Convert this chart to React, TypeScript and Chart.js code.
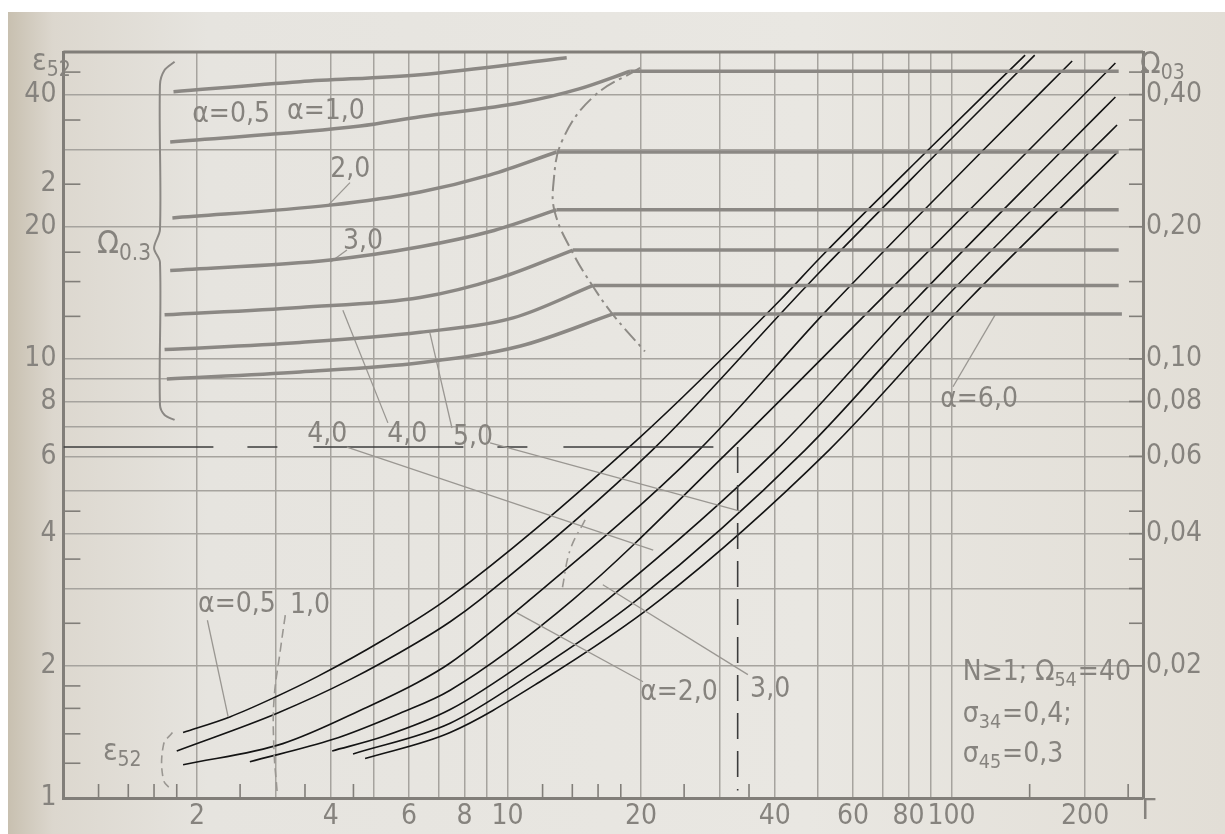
import React, { useEffect, useRef } from "react";
import { Chart, registerables } from "chart.js";
Chart.register(...registerables);

const FONT = '"Liberation Sans Narrow", "DejaVu Sans Condensed", "DejaVu Sans", sans-serif';
const INK = "#86837e";
const GRID = "#a6a39e";
const THICK = "#8b8884";
const BORDER = "#817e79";
const BLACK = "#141414";

// ---- axis ticks ----
const xTickValues = [2, 4, 6, 8, 10, 20, 40, 60, 80, 100, 200];
const xTickLabels = ["2", "4", "6", "8", "10", "20", "40", "60", "80", "100", "200"];
const xGridValues = [2, 3, 4, 5, 6, 7, 8, 9, 10, 20, 30, 40, 50, 60, 70, 80, 90, 100, 200];
const xMinorValues = [1.2, 1.4, 1.6, 1.8, 2.5, 3.5, 4.5, 12, 14, 16, 18, 25, 35, 150, 250];

const yTickValues = [1, 2, 4, 6, 8, 10, 20, 25, 40];
const yTickLabels = ["1", "2", "4", "6", "8", "10", "20", "2", "40"];
const yGridValues = [2, 3, 4, 5, 6, 7, 8, 9, 10, 20, 30, 40];
const yMinorValues = [1.2, 1.4, 1.6, 1.8, 2.5, 3.5, 4.5, 12.5, 15, 17.5, 25, 35, 45];

const omegaTickValues = [0.02, 0.04, 0.06, 0.08, 0.1, 0.2, 0.4];
const omegaTickLabels = ["0,02", "0,04", "0,06", "0,08", "0,10", "0,20", "0,40"];
const omegaMinorValues = [0.025, 0.03, 0.035, 0.045, 0.125, 0.15, 0.25, 0.3, 0.35, 0.45];

// ---- ε52 vs Г (black curves), α = 0.5 ... 6.0 ----
const gammaA05 = [1.86, 2.37, 2.97, 3.73, 5.25, 7.43, 19.6, 41.1, 50.6, 88.6, 146.5];
const epsA05 = [1.41, 1.53, 1.69, 1.89, 2.29, 2.87, 6.54, 13.6, 17.0, 29.9, 49.2];
const gammaA10 = [1.8, 3.03, 4.42, 6.26, 7.43, 8.68, 21.2, 44.0, 50.6, 94.3, 154];
const epsA10 = [1.28, 1.56, 1.86, 2.26, 2.52, 2.83, 6.2, 13.6, 15.8, 29.9, 49.2];
const gammaA20 = [1.86, 3.12, 4.83, 6.26, 7.43, 11.24, 27.0, 52.5, 118, 187];
const epsA20 = [1.19, 1.33, 1.61, 1.83, 2.03, 2.83, 6.2, 12.93, 29.9, 47.7];
const gammaA30 = [2.63, 4.05, 5.73, 7.43, 14.05, 31.7, 65.6, 149.5, 234];
const epsA30 = [1.21, 1.36, 1.56, 1.76, 2.83, 6.2, 12.93, 29.9, 47.2];
const gammaA40 = [4.03, 5.25, 7.43, 11.24, 16.8, 40.3, 82.8, 178, 234];
const epsA40 = [1.28, 1.38, 1.59, 2.08, 2.83, 6.2, 13.6, 29.9, 39.5];
const gammaA50 = [4.49, 7.43, 11.24, 19.6, 46.8, 95.7, 207, 236];
const epsA50 = [1.26, 1.48, 1.91, 2.83, 6.2, 13.6, 29.9, 34.1];
const gammaA60 = [4.78, 7.43, 11.84, 22.1, 53.0, 109, 236];
const epsA60 = [1.23, 1.41, 1.84, 2.83, 6.2, 13.6, 29.5];

// ---- Ω03 vs Г (thick grey curves), α = 0.5 ... 6.0 ----
const gammaW05 = [1.77, 3.41, 6.36, 13.6];
const omegaW05 = [0.406, 0.428, 0.444, 0.485];
const gammaW10 = [1.74, 4.66, 6.36, 10.7, 14.5, 18.9, 238];
const omegaW10 = [0.312, 0.339, 0.356, 0.383, 0.412, 0.452, 0.452];
const gammaW20 = [1.76, 3.99, 6.36, 9.14, 12.9, 238];
const omegaW20 = [0.2095, 0.224, 0.24, 0.2625, 0.296, 0.296];
const gammaW30 = [1.74, 3.99, 6.36, 9.14, 12.9, 238];
const omegaW30 = [0.159, 0.168, 0.18, 0.195, 0.2185, 0.2185];
const gammaW40 = [1.69, 3.41, 6.36, 9.62, 14.05, 238];
const omegaW40 = [0.126, 0.131, 0.138, 0.153, 0.177, 0.177];
const gammaW50 = [1.69, 3.41, 6.36, 10.3, 15.6, 238];
const omegaW50 = [0.105, 0.109, 0.115, 0.124, 0.147, 0.147];
const gammaW60 = [1.71, 3.41, 6.36, 10.7, 17.3, 242];
const omegaW60 = [0.09, 0.0934, 0.098, 0.107, 0.1266, 0.1266];

// ---- boundary (dash-dot) and auxiliary lines ----
const gammaBound = [19.9, 15.6, 13.3, 12.7, 12.8, 14.05, 15.6, 17.3, 20.4];
const epsBound = [46.0, 39.5, 31.5, 25.2, 21.5, 17.4, 14.6, 12.6, 10.4];
const gammaLowBound = [3.16, 3.08, 2.98, 2.98, 3.03];
const epsLowBound = [2.61, 2.17, 1.67, 1.29, 1.03];
const gammaMidBound = [14.96, 13.84, 13.27];
const epsMidBound = [4.3, 3.67, 2.98];
const gammaExampleH = [1, 33];
const epsExampleH = [6.3, 6.3];
const gammaExampleV = [33, 33];
const epsExampleV = [6.3, 1.04];
const gammaBrace = [1.78, 1.69, 1.65, 1.65, 1.6, 1.65, 1.65, 1.69, 1.78];
const epsBrace = [47.5, 45.5, 42.1, 19.7, 17.9, 16.6, 7.86, 7.45, 7.26];
const gammaBraceLow = [1.76, 1.68, 1.68, 1.76];
const epsBraceLow = [1.41, 1.32, 1.1, 1.04];

// leader lines: [Г1, ε1, Г2, ε2]
const leaders = [
  [4.42, 25.2, 3.95, 22.4],
  [4.35, 17.7, 3.99, 16.6],
  [5.38, 7.15, 4.26, 12.9],
  [7.5, 6.96, 6.69, 11.46],
  [100.8, 8.64, 125.4, 12.6],
  [4.35, 6.3, 21.3, 3.67],
  [9.14, 6.44, 33.4, 4.5],
  [20.2, 1.84, 10.5, 2.64],
  [34.8, 1.91, 16.4, 3.06],
  [2.11, 2.54, 2.35, 1.53],
];

// annotations: parts [text, isSubscript], anchor at (Г, ε)
const notes = [
  { parts: [["α=0,5", false]], g: 1.95, e: 36.0, size: 28 },
  { parts: [["α=1,0", false]], g: 3.19, e: 36.5, size: 28 },
  { parts: [["2,0", false]], g: 3.99, e: 26.95, size: 28 },
  { parts: [["3,0", false]], g: 4.26, e: 18.5, size: 28 },
  { parts: [["Ω", false], ["0.3", true]], g: 1.19, e: 18.2, size: 32 },
  { parts: [["4,0", false]], g: 3.54, e: 6.71, size: 28 },
  { parts: [["4,0", false]], g: 5.36, e: 6.71, size: 28 },
  { parts: [["5,0", false]], g: 7.54, e: 6.61, size: 28 },
  { parts: [["α=6,0", false]], g: 94.3, e: 8.07, size: 28 },
  { parts: [["α=0,5", false]], g: 2.01, e: 2.75, size: 28 },
  { parts: [["1,0", false]], g: 3.24, e: 2.74, size: 28 },
  { parts: [["α=2,0", false]], g: 19.9, e: 1.735, size: 28 },
  { parts: [["3,0", false]], g: 35.2, e: 1.76, size: 28 },
  { parts: [["ε", false], ["52", true]], g: 1.228, e: 1.273, size: 30 },
  { parts: [["N≥1; Ω", false], ["54", true], ["=40", false]], g: 106, e: 1.93, size: 28 },
  { parts: [["σ", false], ["34", true], ["=0,4;", false]], g: 106, e: 1.546, size: 28 },
  { parts: [["σ", false], ["45", true], ["=0,3", false]], g: 106, e: 1.253, size: 28 },
  { parts: [["ε", false], ["52", true]], g: 0.85, e: 47.5, size: 30 },
  { parts: [["Ω", false], ["03", true]], g: 266, e: 46.7, size: 30 },
  { parts: [["Г", false]], g: 268, e: 0.93, size: 28 },
];

const pts = (xs: number[], ys: number[]) => xs.map((x, i) => ({ x, y: ys[i] }));

const framePlugin = {
  id: "frame",
  beforeDatasetsDraw(chart: any) {
    const { ctx, chartArea: a, scales } = chart;
    ctx.save();
    ctx.strokeStyle = BORDER;
    ctx.lineWidth = 1.6;
    const seg = (x1: number, y1: number, x2: number, y2: number) => {
      ctx.beginPath();
      ctx.moveTo(x1, y1);
      ctx.lineTo(x2, y2);
      ctx.stroke();
    };
    xMinorValues.forEach((v) => {
      const p = scales.x.getPixelForValue(v);
      seg(p, a.bottom, p, a.bottom - 14);
    });
    yMinorValues.forEach((v) => {
      const p = scales.y.getPixelForValue(v);
      seg(a.left, p, a.left + 17, p);
    });
    [...omegaMinorValues, ...omegaTickValues].forEach((v) => {
      const p = scales.y2.getPixelForValue(v);
      seg(a.right, p, a.right - 14, p);
    });
    ctx.lineWidth = 3;
    seg(a.left, a.top, a.right, a.top);
    ctx.restore();
  },
};

const notesPlugin = {
  id: "notes",
  afterDatasetsDraw(chart: any) {
    const { ctx, scales } = chart;
    ctx.save();
    ctx.fillStyle = INK;
    ctx.textBaseline = "middle";
    ctx.textAlign = "left";
    notes.forEach((n) => {
      let x = scales.x.getPixelForValue(n.g);
      const y = scales.y.getPixelForValue(n.e);
      n.parts.forEach(([t, sub]: any) => {
        const s = sub ? n.size * 0.7 : n.size;
        ctx.font = `${s}px ${FONT}`;
        ctx.fillText(t, x, sub ? y + n.size * 0.3 : y);
        x += ctx.measureText(t).width + (sub ? 1 : 0);
      });
    });
    ctx.restore();
  },
};

export default function App() {
  const ref = useRef<HTMLCanvasElement>(null);
  useEffect(() => {
    const line = (data: any[], color: string, width: number, extra: any = {}) => ({
      data,
      borderColor: color,
      borderWidth: width,
      pointRadius: 0,
      fill: false,
      showLine: true,
      ...extra,
    });
    const omegaPairs = [
      [gammaW05, omegaW05, false],
      [gammaW10, omegaW10, true],
      [gammaW20, omegaW20, true],
      [gammaW30, omegaW30, true],
      [gammaW40, omegaW40, true],
      [gammaW50, omegaW50, true],
      [gammaW60, omegaW60, true],
    ] as any[];
    const omegaSets: any[] = [];
    omegaPairs.forEach(([g, w, flat]) => {
      const n = flat ? g.length - 1 : g.length;
      // rising part
      omegaSets.push(
        line(pts(g.slice(0, n), w.slice(0, n)), THICK, 3.5, { yAxisID: "y2", cubicInterpolationMode: "monotone" })
      );
      // horizontal part after the boundary
      if (flat) {
        omegaSets.push(line(pts(g.slice(n - 1), w.slice(n - 1)), THICK, 3.5, { yAxisID: "y2" }));
      }
    });
    const epsSets = [
      [gammaA05, epsA05],
      [gammaA10, epsA10],
      [gammaA20, epsA20],
      [gammaA30, epsA30],
      [gammaA40, epsA40],
      [gammaA50, epsA50],
      [gammaA60, epsA60],
    ].map(([g, e]) => line(pts(g, e), BLACK, 1.6, { cubicInterpolationMode: "monotone" }));
    const leaderSets = leaders.map((l) =>
      line([{ x: l[0], y: l[1] }, { x: l[2], y: l[3] }], "#9a9792", 1.3)
    );
    const datasets = [
      ...omegaSets,
      line(pts(gammaBound, epsBound), "#8e8b86", 2, { tension: 0.4, borderDash: [16, 5, 3, 5] }),
      line(pts(gammaLowBound, epsLowBound), "#9a9792", 1.6, { tension: 0.4, borderDash: [9, 5] }),
      line(pts(gammaMidBound, epsMidBound), "#9a9792", 1.6, { tension: 0.4, borderDash: [9, 5, 2, 5] }),
      line(pts(gammaBrace, epsBrace), THICK, 2, { tension: 0.3 }),
      line(pts(gammaBraceLow, epsBraceLow), "#9a9792", 1.6, { tension: 0.4, borderDash: [8, 5] }),
      ...leaderSets,
      line(pts(gammaExampleH, epsExampleH), "#3c3c3c", 1.6, { borderDash: [150, 34, 30, 36] }),
      line(pts(gammaExampleV, epsExampleV), "#3c3c3c", 1.6, { borderDash: [26, 12] }),
      ...epsSets,
    ];
    const xMap = new Map(xTickValues.map((v, i) => [v, xTickLabels[i]]));
    const yMap = new Map(yTickValues.map((v, i) => [v, yTickLabels[i]]));
    const wMap = new Map(omegaTickValues.map((v, i) => [v, omegaTickLabels[i]]));
    const tickFont = { family: FONT, size: 28 };
    const chart = new Chart(ref.current as HTMLCanvasElement, {
      type: "line",
      data: { datasets } as any,
      options: {
        animation: false,
        responsive: false,
        devicePixelRatio: 1,
        events: [],
        layout: { padding: { top: 40, left: 0, right: 0, bottom: 0 } },
        plugins: { legend: { display: false }, tooltip: { enabled: false } },
        scales: {
          x: {
            type: "logarithmic",
            min: 1,
            max: 270,
            afterBuildTicks: (s: any) => {
              s.ticks = xGridValues.map((v) => ({ value: v }));
            },
            afterFit: (s: any) => {
              s.height = 36;
            },
            ticks: {
              autoSkip: false,
              maxRotation: 0,
              color: INK,
              font: tickFont,
              padding: 2,
              callback: (v: any) => xMap.get(Number(v)) ?? "",
            },
            grid: { color: GRID, lineWidth: 1.5, drawTicks: false },
            border: { display: true, color: BORDER, width: 3 },
          },
          y: {
            type: "logarithmic",
            position: "left",
            min: 1,
            max: 50,
            afterBuildTicks: (s: any) => {
              const vals = Array.from(new Set([...yTickValues, ...yGridValues])).sort((a, b) => a - b);
              s.ticks = vals.map((v) => ({ value: v }));
            },
            afterFit: (s: any) => {
              s.width = 55.4;
            },
            ticks: {
              autoSkip: false,
              color: INK,
              font: tickFont,
              padding: 7,
              callback: (v: any) => yMap.get(Number(v)) ?? "",
            },
            grid: {
              color: (c: any) => (c.tick && yGridValues.includes(c.tick.value) ? GRID : "rgba(0,0,0,0)"),
              lineWidth: 1.5,
              drawTicks: false,
            },
            border: { display: true, color: BORDER, width: 3 },
          },
          y2: {
            type: "logarithmic",
            position: "right",
            min: 0.01,
            max: 0.5,
            afterBuildTicks: (s: any) => {
              s.ticks = omegaTickValues.map((v) => ({ value: v }));
            },
            afterFit: (s: any) => {
              s.width = 82;
            },
            ticks: {
              autoSkip: false,
              color: INK,
              font: tickFont,
              padding: 3,
              callback: (v: any) => wMap.get(Number(v)) ?? "",
            },
            grid: { display: false, drawTicks: false },
            border: { display: true, color: BORDER, width: 3 },
          },
        },
      } as any,
      plugins: [framePlugin, notesPlugin],
    });
    return () => chart.destroy();
  }, []);
  return (
    <div style={{ position: "relative", width: 1225, height: 834, background: "#fff", overflow: "hidden" }}>
      <style>{`html,body{margin:0;padding:0;background:#fff;}`}</style>
      <div
        style={{
          position: "absolute",
          left: 8,
          top: 12,
          width: 1217,
          height: 822,
          background:
            "linear-gradient(90deg, #c8c0b0 0px, #dcd7ce 45px, #e6e4df 200px, #e9e7e2 800px, #e2ded6 1217px)",
        }}
      >
        <canvas ref={ref} width={1217} height={822} style={{ display: "block", width: 1217, height: 822 }} />
      </div>
    </div>
  );
}
